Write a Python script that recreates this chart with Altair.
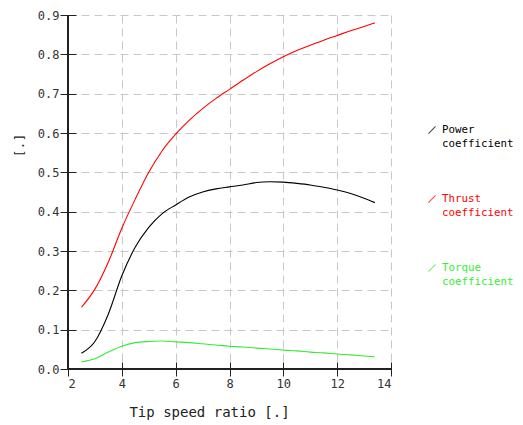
import altair as alt
import pandas as pd

tsr = [2.5, 3.0, 3.5, 4.0, 4.5, 5.0, 5.5, 6.0, 6.5, 7.0, 7.5, 8.0, 8.5, 9.0,
       9.5, 10.0, 10.5, 11.0, 11.5, 12.0, 12.5, 13.0, 13.4]
power = [0.040, 0.070, 0.140, 0.237, 0.310, 0.360, 0.395, 0.417, 0.437, 0.450,
         0.458, 0.463, 0.468, 0.474, 0.476, 0.475, 0.472, 0.468, 0.462, 0.455,
         0.446, 0.434, 0.423]
thrust = [0.157, 0.203, 0.272, 0.358, 0.432, 0.500, 0.555, 0.597, 0.632, 0.662,
          0.688, 0.711, 0.734, 0.756, 0.776, 0.794, 0.810, 0.823, 0.836, 0.848,
          0.860, 0.871, 0.880]
torque = [0.018, 0.026, 0.043, 0.058, 0.067, 0.070, 0.071, 0.069, 0.067, 0.064,
          0.061, 0.058, 0.056, 0.053, 0.051, 0.048, 0.046, 0.043, 0.041, 0.038,
          0.036, 0.033, 0.031]

series = ["Power coefficient", "Thrust coefficient", "Torque coefficient"]
legend_text = ["Power\ncoefficient", "Thrust\ncoefficient", "Torque\ncoefficient"]
colors = ["#000000", "#ff0000", "#33ee33"]
x_ticks = [2, 4, 6, 8, 10, 12, 14]
y_ticks = [0.0, 0.1, 0.2, 0.3, 0.4, 0.5, 0.6, 0.7, 0.8, 0.9]

rows = []
for name, vals in zip(series, [power, thrust, torque]):
    for t, v in zip(tsr, vals):
        rows.append({"tsr": t, "value": v, "series": name})
df = pd.DataFrame(rows)
leg = pd.DataFrame({"series": series, "text": legend_text})

FONT = "DejaVu Sans Mono"
color_scale = alt.Scale(domain=series, range=colors)

W, H = 323, 354

x_axis = alt.Axis(values=x_ticks, format="d", title="Tip speed ratio [.]",
                  grid=True, gridDash=[8, 5], gridColor="#c8c8c8",
                  domain=False, offset=-7, tickSize=14, tickColor="#222",
                  labelPadding=2, labelFont=FONT, labelFontSize=12,
                  labelColor="#333", titleFont=FONT, titleFontSize=14,
                  titleFontWeight="normal", titleColor="#222",
                  titleX=141, titleY=50, titleBaseline="middle",
                  titleAlign="center")
y_axis = alt.Axis(values=y_ticks, format=".1f", title="[.]",
                  grid=True, gridDash=[8, 5], gridColor="#c8c8c8",
                  domain=False, offset=-8, tickSize=16, tickColor="#222",
                  labelPadding=1, labelFont=FONT, labelFontSize=12,
                  labelColor="#333", titleFont=FONT, titleFontSize=13,
                  titleFontWeight="normal", titleColor="#222",
                  titleX=-57, titleY=130, titleAngle=270,
                  titleBaseline="middle", titleAlign="center")

lines = alt.Chart(df).mark_line(strokeWidth=1.1, interpolate="monotone").encode(
    x=alt.X("tsr:Q", scale=alt.Scale(domain=[2, 14], nice=False), axis=x_axis),
    y=alt.Y("value:Q", scale=alt.Scale(domain=[0, 0.9], nice=False), axis=y_axis),
    color=alt.Color("series:N", scale=color_scale, legend=None),
    detail="series:N",
)
left_line = alt.Chart(df).mark_rule(color="#222", strokeWidth=1.2).encode(
    x=alt.value(0), y=alt.value(0), y2=alt.value(H))
bottom_line = alt.Chart(df).mark_rule(color="#222", strokeWidth=1.2).encode(
    y=alt.value(H), x=alt.value(0), x2=alt.value(W))

main = alt.layer(lines, left_line, bottom_line).properties(width=W, height=H)

leg_y = alt.Y("series:N", sort=series, axis=None,
              scale=alt.Scale(domain=series, range=[115, 253], padding=0))
glyph = alt.Chart(leg).mark_point(shape="M-1,1L1,-1", size=50, filled=False,
                                  strokeWidth=1.1).encode(
    x=alt.value(28), y=leg_y,
    color=alt.Color("series:N", scale=color_scale, legend=None))
labels = alt.Chart(leg).mark_text(lineBreak="\n", align="left", baseline="top",
                                  dy=-6, font=FONT, fontSize=10.8,
                                  lineHeight=14).encode(
    x=alt.value(38), y=leg_y, text="text:N",
    color=alt.Color("series:N", scale=color_scale, legend=None))
legend_panel = alt.layer(glyph, labels).properties(width=70, height=H)

chart = alt.hconcat(main, legend_panel, spacing=12).configure_view(
    stroke=None).properties(padding={"left": 5, "top": 1, "right": 0, "bottom": 2})

chart.save("out.html", embed_options={"renderer": "svg", "actions": False})
